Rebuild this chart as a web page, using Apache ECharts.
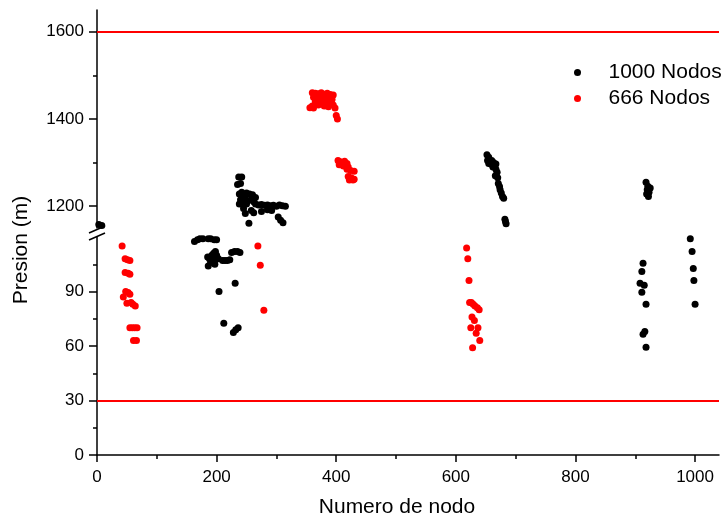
<!DOCTYPE html>
<html>
<head>
<meta charset="utf-8">
<script src="https://cdn.jsdelivr.net/npm/echarts@6/dist/echarts.min.js"></script>
<style>html,body{margin:0;padding:0;background:#fff}#c{width:726px;height:525px}</style>
</head>
<body>
<div id="c"></div>
<script>
// ---- data ----
var seriesNames = ['1000 Nodos', '666 Nodos'];
var xTicks = [0, 200, 400, 600, 800, 1000];
var xMinorTicks = [100, 300, 500, 700, 900];
var yUpperTicks = [1200, 1400, 1600];
var yUpperMinor = [1300, 1500];
var yLowerTicks = [0, 30, 60, 90];
var yLowerMinor = [15, 45, 75, 105];
var upperLimit = 1600;
var lowerLimit = 30;

// 1000 Nodos, upper segment (y > break)
var blackUpper = [
  [3,1158],[8,1156],
  [237,1267],[242,1267],[235,1250],[240,1252],
  [238,1228],[242,1232],[246,1225],[250,1230],[255,1228],[260,1226],[240,1215],[244,1210],
  [248,1218],[252,1212],[258,1215],[262,1210],[238,1205],[245,1202],[250,1205],[265,1220],
  [265,1205],[270,1203],[275,1204],[280,1202],[285,1203],[290,1201],[295,1202],[300,1200],
  [305,1203],[310,1201],[315,1200],[258,1190],[262,1185],[275,1188],[285,1192],[292,1190],
  [245,1195],[248,1183],[254,1161],[303,1175],[307,1168],[311,1162],
  [652,1318],[655,1312],[653,1305],[657,1303],[660,1305],[663,1300],[655,1298],[659,1296],
  [664,1295],[667,1297],[662,1290],[667,1285],[669,1278],[666,1270],[670,1265],[671,1252],
  [673,1245],[674,1238],[676,1230],[678,1222],[680,1218],[682,1170],[683,1165],[684,1160],
  [918,1255],[921,1246],[925,1242],[920,1238],[923,1232],[919,1228],[922,1222]
];
// 1000 Nodos, lower segment
var blackLower = [
  [163,117.5],[168,118.5],[172,119],[177,119],[186,119],[190,119],[196,118.5],[200,118.5],
  [185,109],[188,108],[192,110],[195,111],[198,112],[200,110],[203,108],[197,107],[190,106],
  [210,107],[214,107],[218,107],[222,107.5],[225,111.5],[230,112],[235,112],[239,111.5],
  [186,104],[197,105],[231,94.5],[204,90],[212,72.5],[228,67.5],[232,69],[236,70],
  [913,105.5],[911,101],[908,94.5],[915,93.4],[911,89.6],[918,83],[916,68],[913,66.5],[918,59.3],
  [992,119],[995,112],[997,102.7],[998,96],[1000,83]
];
// 666 Nodos, upper segment
var redUpper = [
  [360,1460],[365,1459],[370,1458],[375,1460],[380,1457],[385,1459],[390,1456],
  [362,1450],[368,1452],[372,1448],[378,1451],[385,1447],[392,1450],
  [365,1440],[372,1442],[378,1438],[385,1441],[390,1436],
  [360,1430],[370,1432],[380,1430],[387,1428],[356,1426],[362,1425],
  [395,1455],[393,1445],[395,1432],[398,1425],[400,1408],[402,1400],
  [403,1305],[407,1302],[410,1300],[414,1303],[418,1298],[405,1295],[412,1292],[420,1290],
  [418,1285],[424,1282],[430,1280],[420,1268],[425,1265],[430,1262],[422,1260],[428,1260]
];
// 666 Nodos, lower segment
var redLower = [
  [42,115],[47,108],[51,107.5],[55,107],[47,100.5],[52,100],[55,99.5],[48,90],[52,89.5],
  [55,88.5],[44,87],[50,83.5],[57,84],[60,83],[64,82],[55,70],[59,70],[63,70],[67,70],[61,63],[66,63],
  [269,115],[273,104.4],[279,79.7],
  [618,114],[620,108],[622,96],[623,84],[626,84],[629,83],[632,82],[636,81],[639,80],
  [627,76],[631,74],[625,70],[637,70],[634,67],[640,63],[628,59]
];

// ---- chart ----
var FONT = 'Arial, "Liberation Sans", sans-serif';
var chart = echarts.init(document.getElementById('c'), null, {renderer: 'canvas'});
var axisLineStyle = {show: true, lineStyle: {color: '#000', width: 1.5}};
var plain = function (v) { return String(v); };
var grids = [
  {left: 97, right: 7, top: 10, height: 218},
  {left: 97, right: 7, top: 237, height: 218}
];
function limitLine(v) {
  return {
    silent: true, symbol: ['none', 'none'],
    label: {show: false},
    lineStyle: {color: '#ff0000', width: 2, type: 'solid'},
    data: [{yAxis: v}]
  };
}
var symSize = 7;
var option = {
  animation: false,
  backgroundColor: '#fff',
  textStyle: {fontFamily: FONT},
  grid: grids,
  legend: {
    orient: 'vertical', left: 569, top: 57, itemGap: 5,
    itemWidth: 52, itemHeight: 7,
    data: [{name: seriesNames[0], icon: 'circle'}, {name: seriesNames[1], icon: 'circle'}],
    textStyle: {fontSize: 21, color: '#000', fontFamily: FONT}
  },
  xAxis: [
    {gridIndex: 0, type: 'value', min: 0, max: 1040, show: false},
    {gridIndex: 1, type: 'value', min: 0, max: 1040, position: 'bottom',
     axisLine: axisLineStyle,
     axisTick: {show: true, length: 7, customValues: xTicks, lineStyle: {color: '#000', width: 1.5}},
     axisLabel: {customValues: xTicks, formatter: plain, fontSize: 17, color: '#000', margin: 14, fontFamily: FONT},
     splitLine: {show: false},
     name: 'Numero de nodo', nameLocation: 'middle', nameGap: 42,
     nameTextStyle: {fontSize: 21, color: '#000', fontFamily: FONT, padding: [0, 22, 0, 0]}},
    {gridIndex: 1, type: 'value', min: 0, max: 1040, position: 'bottom',
     axisLine: {show: false},
     axisTick: {show: true, length: 4, customValues: xMinorTicks, lineStyle: {color: '#000', width: 1.5}},
     axisLabel: {show: false}, splitLine: {show: false}}
  ],
  yAxis: [
    {gridIndex: 0, type: 'value', min: 1150, max: 1650, position: 'left',
     axisLine: axisLineStyle,
     axisTick: {show: true, length: 8, customValues: yUpperTicks, lineStyle: {color: '#000', width: 1.5}},
     axisLabel: {customValues: yUpperTicks, formatter: plain, fontSize: 17, color: '#000', margin: 13, fontFamily: FONT},
     splitLine: {show: false}},
    {gridIndex: 0, type: 'value', min: 1150, max: 1650, position: 'left',
     axisLine: {show: false},
     axisTick: {show: true, length: 4, customValues: yUpperMinor, lineStyle: {color: '#000', width: 1.5}},
     axisLabel: {show: false}, splitLine: {show: false}},
    {gridIndex: 1, type: 'value', min: 0, max: 120, position: 'left',
     axisLine: axisLineStyle,
     axisTick: {show: true, length: 8, customValues: yLowerTicks, lineStyle: {color: '#000', width: 1.5}},
     axisLabel: {customValues: yLowerTicks, formatter: plain, fontSize: 17, color: '#000', margin: 13, fontFamily: FONT},
     splitLine: {show: false}},
    {gridIndex: 1, type: 'value', min: 0, max: 120, position: 'left',
     axisLine: {show: false},
     axisTick: {show: true, length: 4, customValues: yLowerMinor, lineStyle: {color: '#000', width: 1.5}},
     axisLabel: {show: false}, splitLine: {show: false}}
  ],
  series: [
    {name: seriesNames[1], type: 'scatter', xAxisIndex: 0, yAxisIndex: 0, data: redUpper,
     symbolSize: symSize, itemStyle: {color: '#ff0000', opacity: 1}, markLine: limitLine(upperLimit)},
    {name: seriesNames[1], type: 'scatter', xAxisIndex: 1, yAxisIndex: 2, data: redLower,
     symbolSize: symSize, itemStyle: {color: '#ff0000', opacity: 1}, markLine: limitLine(lowerLimit)},
    {name: seriesNames[0], type: 'scatter', xAxisIndex: 0, yAxisIndex: 0, data: blackUpper,
     symbolSize: symSize, itemStyle: {color: '#000000', opacity: 1}},
    {name: seriesNames[0], type: 'scatter', xAxisIndex: 1, yAxisIndex: 2, data: blackLower,
     symbolSize: symSize, itemStyle: {color: '#000000', opacity: 1}}
  ],
  graphic: [
    {type: 'text', x: 21, y: 250, rotation: Math.PI / 2,
     style: {text: 'Presion (m)', fontSize: 21, fontFamily: FONT, fill: '#000', align: 'center', verticalAlign: 'middle'}},
    {type: 'rect', shape: {x: 92, y: 229, width: 10, height: 8}, style: {fill: '#fff'}, z: 100},
    {type: 'line', shape: {x1: 89, y1: 233, x2: 105, y2: 226}, style: {stroke: '#000', lineWidth: 1.5}, z: 101},
    {type: 'line', shape: {x1: 89, y1: 240, x2: 105, y2: 233}, style: {stroke: '#000', lineWidth: 1.5}, z: 101}
  ]
};
chart.setOption(option);
</script>
</body>
</html>
